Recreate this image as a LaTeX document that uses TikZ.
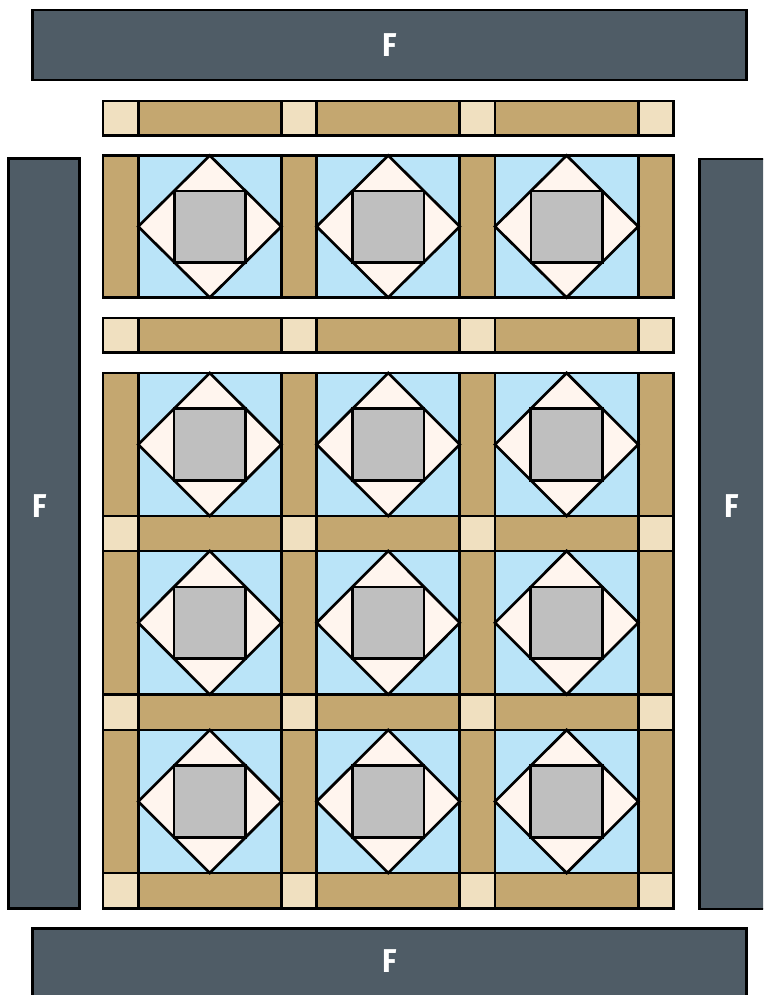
\documentclass[tikz,border=0pt]{standalone}
\usepackage{fontspec}
\setsansfont{Fira Sans}
\definecolor{fbar}{HTML}{4F5C66}
\definecolor{tanq}{HTML}{C4A770}
\definecolor{cstone}{HTML}{F0E0C0}
\definecolor{skyq}{HTML}{BAE4F8}
\definecolor{creamq}{HTML}{FFF5EE}
\definecolor{grayq}{HTML}{BFBFBF}
\begin{document}
\begin{tikzpicture}[x=1pt,y=-1pt,line width=2.7pt,line join=miter]
\tikzset{
  fbarbox/.style={fill=fbar,draw=black,line width=2.2pt},
  flabel/.style={font=\sffamily\bfseries\fontsize{33}{33}\selectfont,text=white,inner sep=0pt,xscale=0.9,transform shape},
  sashbox/.style={fill=tanq,draw=black},
  cornerbox/.style={fill=cstone,draw=black},
  bgbox/.style={fill=skyq,draw=black},
  diabox/.style={fill=creamq,draw=black},
  sqbox/.style={fill=grayq,draw=black}
}
\useasboundingbox (0,0) rectangle (763,995);
\clip (0,0) rectangle (763,995);
% borders
\draw[fbarbox] (32.5,10) rectangle (746.5,80);
\node[flabel] (ftop) at (389.5,45) {F};
\draw[fbarbox] (8.5,158.5) rectangle (79.5,908.5);
\node[flabel] (fleft) at (40,506) {F};
\draw[fbarbox] (699.5,159) rectangle (775,909);
\node[flabel] (fright) at (731.5,506) {F};
\draw[fbarbox] (32.5,928.5) rectangle (746.5,1005);
\node[flabel] (fbot) at (389.5,961) {F};
% horizontal sashing rows
\foreach \ya/\yb in {101/135.5, 318/352.5, 516/551, 694.5/730, 873/908.5}{
  \foreach \cx in {103,281.4,459.8,638.2}{
    \draw[cornerbox] (\cx,\ya) rectangle ++(35.2,\yb-\ya);
  }
  \foreach \sx in {138.2,316.6,495}{
    \draw[sashbox] (\sx,\ya) rectangle ++(143.2,\yb-\ya);
  }
}
% block rows
\foreach \ya/\yb in {155.5/297.5, 373/516, 551/694.5, 730/873}{
  \foreach \cx in {103,281.4,459.8,638.2}{
    \draw[sashbox] (\cx,\ya) rectangle ++(35.2,\yb-\ya);
  }
  \foreach \bx in {138.2,316.6,495}{
    \pgfmathsetmacro{\cxm}{\bx+71.6}
    \pgfmathsetmacro{\cym}{(\ya+\yb)/2}
    \pgfmathsetmacro{\hh}{(\yb-\ya)/2}
    \pgfmathsetmacro{\ss}{71.6*\hh/(71.6+\hh)}
    \draw[bgbox] (\bx,\ya) rectangle ++(143.2,\yb-\ya);
    \draw[diabox] (\cxm,\ya) -- (\bx+143.2,\cym) -- (\cxm,\yb) -- (\bx,\cym) -- cycle;
    \draw[sqbox] (\cxm-\ss,\cym-\ss) rectangle (\cxm+\ss,\cym+\ss);
  }
}
\end{tikzpicture}
\end{document}
